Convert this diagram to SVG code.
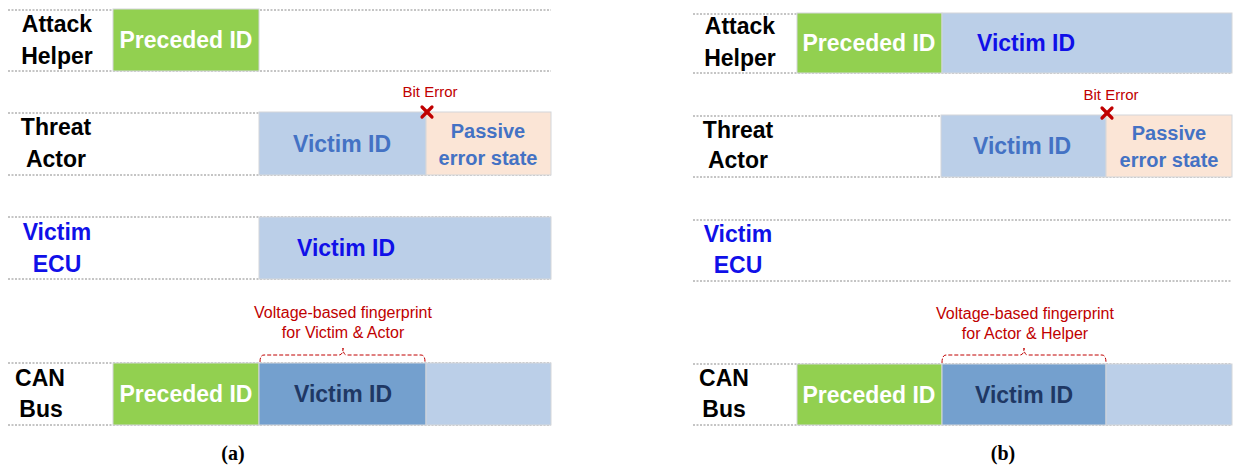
<svg xmlns="http://www.w3.org/2000/svg" width="1233" height="468" viewBox="0 0 1233 468">
<style>
.dot{stroke:#8a8a8a;stroke-width:1;stroke-dasharray:2 1.5;fill:none}
.box{stroke:#d3d6da;stroke-width:1}
.green{fill:#92D050}
.lb{fill:#BBCFE8}
.db{fill:#74A0CE}
.peach{fill:#FBE5D6}
.lbl{font-family:"Liberation Sans",Arial,sans-serif;font-weight:bold;font-size:23px;text-anchor:middle;fill:#000}
.lblb{fill:#1010E8}
.bt{font-family:"Liberation Sans",Arial,sans-serif;font-weight:bold;font-size:23px;text-anchor:middle}
.w{fill:#fff}
.mid{fill:#4472C4}
.blue{fill:#1010E8}
.navy{fill:#1F3864}
.ps{font-size:20px}
.red{font-family:"Liberation Sans",Arial,sans-serif;font-size:15px;fill:#C00000;text-anchor:middle}
.volt{font-size:16px}
.brace{stroke:#C00000;stroke-width:1;stroke-dasharray:4 2;fill:none}
.x{stroke:#C00000;stroke-width:3.2;stroke-linecap:round}
.cap{font-family:"Liberation Serif","Times New Roman",serif;font-weight:bold;font-size:20px;text-anchor:middle;fill:#000}
</style>

<g id="panel-a">
  <g id="a-lines">
    <line class="dot" x1="8" y1="10" x2="551" y2="10"/>
    <line class="dot" x1="8" y1="71" x2="551" y2="71"/>
    <line class="dot" x1="8" y1="113" x2="551" y2="113"/>
    <line class="dot" x1="8" y1="175" x2="551" y2="175"/>
    <line class="dot" x1="8" y1="217" x2="551" y2="217"/>
    <line class="dot" x1="8" y1="279" x2="551" y2="279"/>
    <line class="dot" x1="8" y1="363" x2="551" y2="363"/>
    <line class="dot" x1="8" y1="425" x2="551" y2="425"/>
  </g>
  <g id="a-attack-helper">
    <text class="lbl" x="57" y="32">Attack</text>
    <text class="lbl" x="57" y="64">Helper</text>
    <rect class="box green" x="113" y="9" width="146" height="62"/>
    <text class="bt w" x="186" y="48">Preceded ID</text>
  </g>
  <g id="a-threat-actor">
    <text class="lbl" x="56" y="135">Threat</text>
    <text class="lbl" x="56" y="167">Actor</text>
    <rect class="box lb" x="259" y="112" width="167" height="63"/>
    <text class="bt mid" x="342" y="152">Victim ID</text>
    <rect class="box peach" x="426" y="112" width="125" height="63"/>
    <text class="bt mid ps" x="488" y="138">Passive</text>
    <text class="bt mid ps" x="488" y="165">error state</text>
    <text class="red" x="430" y="97">Bit Error</text>
    <line class="x" x1="422" y1="107" x2="432" y2="117"/>
    <line class="x" x1="432" y1="107" x2="422" y2="117"/>
  </g>
  <g id="a-victim-ecu">
    <text class="lbl lblb" x="57" y="240">Victim</text>
    <text class="lbl lblb" x="57" y="272">ECU</text>
    <rect class="box lb" x="259" y="217" width="292" height="62"/>
    <text class="bt blue" x="346" y="256">Victim ID</text>
  </g>
  <g id="a-can-bus">
    <text class="lbl" x="40" y="386">CAN</text>
    <text class="lbl" x="41" y="417">Bus</text>
    <rect class="box green" x="113" y="363" width="146" height="62"/>
    <text class="bt w" x="186" y="402">Preceded ID</text>
    <rect class="box db" x="259" y="363" width="167" height="62"/>
    <text class="bt navy" x="343" y="402">Victim ID</text>
    <rect class="box lb" x="426" y="363" width="125" height="62"/>
  </g>
  <g id="a-fingerprint">
    <text class="red volt" x="343" y="318">Voltage-based fingerprint</text>
    <text class="red volt" x="343" y="338">for Victim &amp; Actor</text>
    <path class="brace" d="M260,362 Q260,355 264,355 L339,355 Q343,355 343,348 Q343,355 347,355 L421,355 Q425,355 425,362"/>
  </g>
  <text class="cap" x="233" y="460">(a)</text>
</g>

<g id="panel-b">
  <g id="b-lines">
    <line class="dot" x1="693" y1="14" x2="1232" y2="14"/>
    <line class="dot" x1="693" y1="73" x2="1232" y2="73"/>
    <line class="dot" x1="693" y1="116" x2="1232" y2="116"/>
    <line class="dot" x1="693" y1="177" x2="1232" y2="177"/>
    <line class="dot" x1="693" y1="220" x2="1232" y2="220"/>
    <line class="dot" x1="693" y1="281" x2="1232" y2="281"/>
    <line class="dot" x1="693" y1="364" x2="1232" y2="364"/>
    <line class="dot" x1="693" y1="425" x2="1232" y2="425"/>
  </g>
  <g id="b-attack-helper">
    <text class="lbl" x="740" y="34">Attack</text>
    <text class="lbl" x="740" y="66">Helper</text>
    <rect class="box green" x="797" y="13" width="145" height="60"/>
    <text class="bt w" x="869" y="51">Preceded ID</text>
    <rect class="box lb" x="942" y="13" width="290" height="60"/>
    <text class="bt blue" x="1026" y="51">Victim ID</text>
  </g>
  <g id="b-threat-actor">
    <text class="lbl" x="738" y="138">Threat</text>
    <text class="lbl" x="738" y="168">Actor</text>
    <rect class="box lb" x="941" y="115" width="165" height="62"/>
    <text class="bt mid" x="1022" y="154">Victim ID</text>
    <rect class="box peach" x="1106" y="115" width="126" height="62"/>
    <text class="bt mid ps" x="1169" y="140">Passive</text>
    <text class="bt mid ps" x="1169" y="167">error state</text>
    <text class="red" x="1111" y="100">Bit Error</text>
    <line class="x" x1="1102" y1="108" x2="1112" y2="118"/>
    <line class="x" x1="1112" y1="108" x2="1102" y2="118"/>
  </g>
  <g id="b-victim-ecu">
    <text class="lbl lblb" x="738" y="242">Victim</text>
    <text class="lbl lblb" x="738" y="273">ECU</text>
  </g>
  <g id="b-can-bus">
    <text class="lbl" x="724" y="386">CAN</text>
    <text class="lbl" x="724" y="417">Bus</text>
    <rect class="box green" x="797" y="364" width="145" height="61"/>
    <text class="bt w" x="869" y="403">Preceded ID</text>
    <rect class="box db" x="942" y="364" width="164" height="61"/>
    <text class="bt navy" x="1024" y="403">Victim ID</text>
    <rect class="box lb" x="1106" y="364" width="126" height="61"/>
  </g>
  <g id="b-fingerprint">
    <text class="red volt" x="1025" y="319">Voltage-based fingerprint</text>
    <text class="red volt" x="1025" y="339">for Actor &amp; Helper</text>
    <path class="brace" d="M942,363 Q942,355 946,355 L1020,355 Q1024,355 1024,348 Q1024,355 1028,355 L1102,355 Q1106,355 1106,363"/>
  </g>
  <text class="cap" x="1003" y="460">(b)</text>
</g>
</svg>
